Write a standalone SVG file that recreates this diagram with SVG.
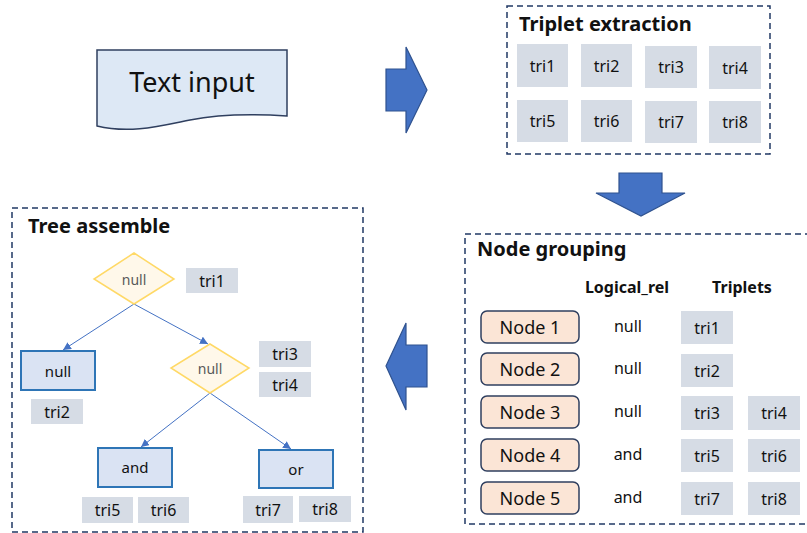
<svg xmlns="http://www.w3.org/2000/svg" width="807" height="533" viewBox="0 0 807 533">
<style>
text{font-family:"Noto Sans","Open Sans","Liberation Sans",sans-serif;fill:#111;}
.title{font-size:20px;font-weight:bold;}
.hdr{font-size:16px;font-weight:bold;text-anchor:middle;}
.frame{fill:none;stroke:#203864;stroke-width:1.5;stroke-dasharray:6,4;}
.tri{fill:#d6dce5;}
.tt{font-size:16px;text-anchor:middle;dominant-baseline:central;}
.big{fill:#4472c4;stroke:#2f528f;stroke-width:1.2;}
.node{fill:#fbe5d6;stroke:#2f3f5f;stroke-width:1.5;}
.nt{font-size:18px;text-anchor:middle;dominant-baseline:central;}
.rel{font-size:16px;text-anchor:middle;dominant-baseline:central;}
.dia{fill:#fff8ea;stroke:#ffd966;stroke-width:1.5;}
.dt{font-size:14px;text-anchor:middle;dominant-baseline:central;fill:#595959;}
.rb{fill:#dae3f3;stroke:#2e75b6;stroke-width:2;}
.rt{font-size:15px;text-anchor:middle;dominant-baseline:central;}
.con{stroke:#4472c4;stroke-width:1;fill:none;marker-end:url(#ah);}
</style>
<defs>
<marker id="ah" viewBox="0 0 10 10" refX="10" refY="5" markerWidth="8" markerHeight="8" markerUnits="userSpaceOnUse" orient="auto">
<path d="M0,0 L10,5 L0,10 Z" fill="#4472c4"/>
</marker>
</defs>

<g id="text-input">
<path d="M97,50 H287 V116 C255,114 220,114 190,120 C160,126 130,134 97,126 Z" fill="#dde8f5" stroke="#2f3f5f" stroke-width="1.5"/>
<text x="192" y="92" font-size="27" text-anchor="middle">Text input</text>
</g>

<g id="arrow-right">
<polygon class="big" points="386,69 406,69 406,47 427,90 406,133 406,111 386,111"/>
</g>

<g id="triplet-extraction">
<rect class="frame" x="507" y="6" width="263" height="148"/>
<text class="title" x="519" y="31">Triplet extraction</text>
<rect class="tri" x="517" y="44" width="51" height="43"/><text class="tt" x="542.5" y="66">tri1</text>
<rect class="tri" x="581" y="44" width="51" height="43"/><text class="tt" x="606.5" y="66">tri2</text>
<rect class="tri" x="645" y="46" width="52" height="42"/><text class="tt" x="671" y="67">tri3</text>
<rect class="tri" x="709" y="46" width="52" height="43"/><text class="tt" x="735" y="68">tri4</text>
<rect class="tri" x="517" y="100" width="51" height="42"/><text class="tt" x="542.5" y="121">tri5</text>
<rect class="tri" x="581" y="100" width="51" height="42"/><text class="tt" x="606.5" y="121">tri6</text>
<rect class="tri" x="645" y="101" width="52" height="42"/><text class="tt" x="671" y="122">tri7</text>
<rect class="tri" x="709" y="101" width="52" height="42"/><text class="tt" x="735" y="122">tri8</text>
</g>

<g id="arrow-down">
<polygon class="big" points="619,173 662,173 662,193 685,193 641,216 596,193 619,193"/>
</g>

<g id="node-grouping">
<rect class="frame" x="465" y="234" width="345" height="290"/>
<text class="title" x="477" y="256">Node grouping</text>
<text class="hdr" x="627" y="293">Logical_rel</text>
<text class="hdr" x="742" y="293">Triplets</text>
<rect class="node" x="481" y="311" width="98" height="32" rx="6"/><text class="nt" x="530" y="327">Node 1</text>
<rect class="node" x="481" y="353" width="98" height="32" rx="6"/><text class="nt" x="530" y="369">Node 2</text>
<rect class="node" x="481" y="396" width="98" height="32" rx="6"/><text class="nt" x="530" y="412">Node 3</text>
<rect class="node" x="481" y="439" width="98" height="32" rx="6"/><text class="nt" x="530" y="455">Node 4</text>
<rect class="node" x="481" y="482" width="98" height="32" rx="6"/><text class="nt" x="530" y="498">Node 5</text>
<text class="rel" x="628" y="326">null</text>
<text class="rel" x="628" y="368">null</text>
<text class="rel" x="628" y="411">null</text>
<text class="rel" x="628" y="454">and</text>
<text class="rel" x="628" y="497">and</text>
<rect class="tri" x="681" y="311" width="52" height="33"/><text class="tt" x="707" y="328">tri1</text>
<rect class="tri" x="681" y="354" width="52" height="33"/><text class="tt" x="707" y="371">tri2</text>
<rect class="tri" x="681" y="396" width="52" height="34"/><text class="tt" x="707" y="413">tri3</text>
<rect class="tri" x="748" y="396" width="52" height="34"/><text class="tt" x="774" y="413">tri4</text>
<rect class="tri" x="681" y="439" width="52" height="33"/><text class="tt" x="707" y="456">tri5</text>
<rect class="tri" x="748" y="439" width="52" height="33"/><text class="tt" x="774" y="456">tri6</text>
<rect class="tri" x="681" y="482" width="52" height="33"/><text class="tt" x="707" y="499">tri7</text>
<rect class="tri" x="748" y="482" width="52" height="33"/><text class="tt" x="774" y="499">tri8</text>
</g>

<g id="arrow-left">
<polygon class="big" points="427,345 406,345 406,323 386,366 406,410 406,387 427,387"/>
</g>

<g id="tree-assemble">
<rect class="frame" x="12" y="208" width="351" height="324"/>
<text class="title" x="28" y="233">Tree assemble</text>
</g>

<g id="connectors">
<line class="con" x1="134" y1="304" x2="63" y2="350"/>
<line class="con" x1="134" y1="304" x2="208" y2="344"/>
<line class="con" x1="210" y1="393" x2="141" y2="447"/>
<line class="con" x1="210" y1="393" x2="291" y2="449"/>
</g>

<g id="diamond-root">
<polygon class="dia" points="134,253 174,279 134,304 94,279"/>
<text class="dt" x="134" y="279">null</text>
<rect class="tri" x="186" y="268" width="52" height="25"/><text class="tt" x="212" y="281">tri1</text>
</g>

<g id="rect-null">
<rect class="rb" x="21" y="351" width="74" height="39"/>
<text class="rt" x="58" y="371">null</text>
<rect class="tri" x="31" y="399" width="52" height="25"/><text class="tt" x="57" y="412">tri2</text>
</g>

<g id="diamond-mid">
<polygon class="dia" points="210,344 249,368 210,393 171,368"/>
<text class="dt" x="210" y="368">null</text>
<rect class="tri" x="259" y="341" width="52" height="26"/><text class="tt" x="285" y="354">tri3</text>
<rect class="tri" x="259" y="372" width="52" height="25"/><text class="tt" x="285" y="385">tri4</text>
</g>

<g id="rect-and">
<rect class="rb" x="98" y="448" width="74" height="39"/>
<text class="rt" x="135" y="467">and</text>
<rect class="tri" x="82" y="497" width="51" height="26"/><text class="tt" x="107.5" y="510">tri5</text>
<rect class="tri" x="138" y="497" width="51" height="26"/><text class="tt" x="163.5" y="510">tri6</text>
</g>

<g id="rect-or">
<rect class="rb" x="259" y="450" width="74" height="38"/>
<text class="rt" x="296" y="469">or</text>
<rect class="tri" x="243" y="496" width="50" height="27"/><text class="tt" x="268" y="510">tri7</text>
<rect class="tri" x="299" y="496" width="52" height="26"/><text class="tt" x="325" y="509">tri8</text>
</g>
</svg>
